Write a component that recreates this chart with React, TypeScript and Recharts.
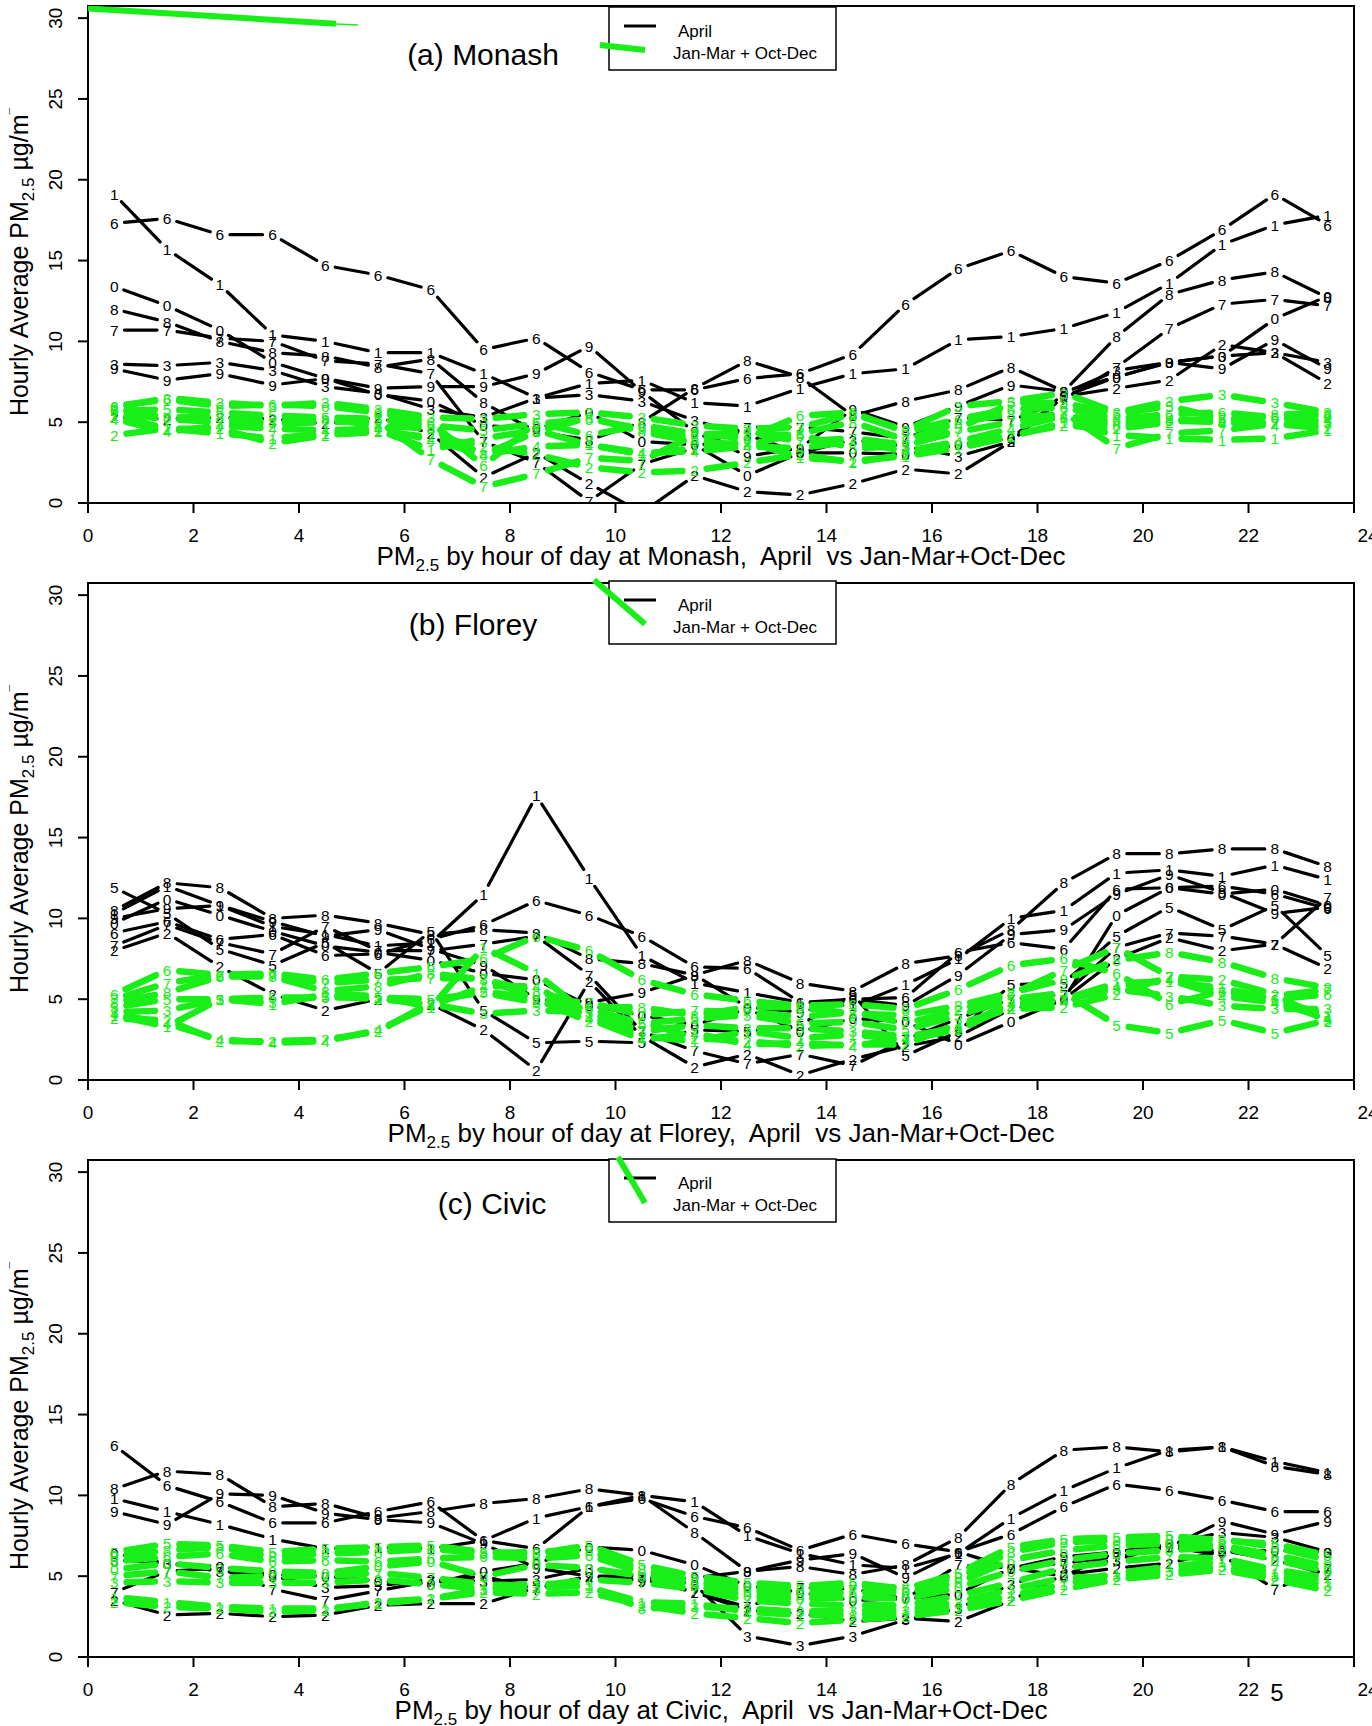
import { ComposedChart, Line, Scatter, XAxis, YAxis, ReferenceArea } from 'recharts'

const HOURS = [0.5, 1.5, 2.5, 3.5, 4.5, 5.5, 6.5, 7.5, 8.5, 9.5, 10.5, 11.5, 12.5, 13.5, 14.5, 15.5, 16.5, 17.5, 18.5, 19.5, 20.5, 21.5, 22.5, 23.5]
const X_TICKS = [0, 2, 4, 6, 8, 10, 12, 14, 16, 18, 20, 22, 24]
const Y_TICKS = [0, 5, 10, 15, 20, 25, 30]
const Y_TOP = 30.75

// (a) Monash, April (black), labelled by year digit
const MONASH_APRIL_KEYS = ['1', '6', '0', '8', '7', '3', '9', '2']
const MONASH_APRIL = [
  [19.1, 15.7, 13.5, 10.4, 10.0, 9.3, 9.3, 8.0, 6.5, 7.4, 7.6, 6.2, 6.0, 7.1, 8.0, 8.3, 10.1, 10.3, 10.8, 11.8, 13.6, 16.0, 17.2, 17.8],
  [17.3, 17.6, 16.6, 16.6, 14.7, 14.1, 13.2, 9.5, 10.2, 8.1, 7.0, 7.0, 7.7, 8.0, 9.2, 12.3, 14.5, 15.6, 14.0, 13.6, 15.0, 16.9, 19.1, 17.2],
  [13.4, 12.2, 10.7, 8.7, 7.7, 6.7, 6.3, 4.8, 4.6, 5.6, 3.8, 3.6, 1.7, 3.1, 3.1, 3.0, 3.6, 4.0, 6.6, 7.8, 8.7, 9.1, 11.4, 12.8],
  [12.0, 11.2, 10.0, 9.3, 9.1, 8.4, 8.9, 6.2, 4.4, 3.9, 5.0, 7.1, 8.8, 7.8, 5.4, 6.3, 7.0, 8.4, 6.9, 10.3, 12.9, 13.8, 14.3, 12.7],
  [10.7, 10.7, 10.2, 10.0, 8.8, 8.6, 8.0, 3.8, 2.5, 0.1, 2.4, 3.4, 4.7, 4.7, 4.4, 4.0, 5.3, 5.1, 6.4, 8.4, 10.8, 12.3, 12.6, 12.2],
  [8.6, 8.5, 8.7, 8.2, 7.2, 6.8, 5.8, 5.3, 6.5, 6.7, 6.3, 5.1, 4.2, 3.1, 3.9, 3.5, 2.9, 3.8, 6.8, 8.2, 8.7, 9.1, 9.3, 8.7],
  [8.3, 7.6, 8.0, 7.3, 7.7, 7.1, 7.2, 7.2, 8.0, 9.7, 6.9, 4.4, 2.9, 3.4, 5.8, 4.7, 6.0, 7.3, 6.9, 7.8, 8.7, 8.3, 10.1, 8.3],
  [5.3, 5.2, 5.3, 5.2, 4.9, 5.3, 4.3, 1.6, 3.1, 1.2, -0.6, 1.7, 0.7, 0.5, 1.2, 2.1, 1.8, 3.8, 6.6, 7.1, 7.6, 9.8, 9.3, 7.4],
]
// (a) Monash, Jan-Mar + Oct-Dec (green)
const MONASH_OTHER_KEYS = ['3', '6', '5', '2', '4', '1', '7', '8']
const MONASH_OTHER = [
  [5.9, 6.5, 6.2, 6.0, 6.2, 5.8, 5.3, 5.2, 5.5, 5.6, 5.3, 4.8, 4.6, 4.7, 5.5, 4.5, 6.0, 6.3, 6.8, 5.6, 6.3, 6.7, 6.2, 5.6],
  [6.0, 6.4, 6.0, 6.1, 6.0, 5.6, 5.0, 2.3, 5.0, 4.2, 4.8, 4.3, 4.0, 5.4, 5.6, 4.4, 5.2, 5.8, 5.9, 5.2, 5.5, 5.6, 5.3, 5.4],
  [5.7, 5.8, 5.6, 5.4, 5.3, 5.2, 4.8, 4.5, 4.9, 5.2, 4.6, 4.0, 4.3, 4.2, 3.4, 3.5, 4.6, 6.2, 6.2, 5.5, 6.0, 5.2, 5.3, 5.0],
  [4.2, 4.6, 4.6, 3.7, 4.2, 4.4, 4.1, 3.5, 3.0, 2.2, 1.9, 2.0, 2.5, 3.0, 2.5, 3.0, 3.6, 4.2, 4.8, 4.6, 5.0, 5.3, 4.9, 4.6],
  [5.2, 4.4, 4.8, 4.6, 4.5, 4.6, 3.9, 3.0, 3.5, 3.6, 3.1, 3.2, 3.5, 3.4, 3.8, 3.2, 3.8, 4.6, 5.4, 5.0, 5.2, 5.0, 4.8, 5.2],
  [5.4, 4.6, 4.3, 4.0, 4.3, 4.5, 3.3, 4.0, 4.5, 3.6, 3.0, 3.4, 3.8, 2.8, 2.6, 2.9, 3.4, 4.1, 5.0, 4.2, 4.0, 3.9, 4.0, 4.5],
  [5.5, 5.2, 5.0, 4.9, 5.0, 5.1, 2.7, 1.0, 1.8, 2.8, 2.6, 4.2, 4.4, 3.8, 4.0, 3.6, 4.4, 5.0, 5.6, 3.4, 4.3, 4.5, 4.9, 4.8],
  [5.8, 5.3, 5.3, 5.0, 5.2, 4.8, 4.6, 3.0, 4.4, 5.3, 4.4, 3.8, 3.6, 4.3, 5.0, 3.9, 5.0, 5.5, 5.3, 4.8, 5.1, 5.0, 5.5, 5.5],
]
// stray green stroke at the top left of panel (a)
const MONASH_STRAY_HOURS = [0, 4.7]
const MONASH_STRAY_VALUES = [30.6, 29.65]

// (b) Florey
const FLOREY_APRIL_KEYS = ['1', '8', '6', '9', '0', '5', '2', '7']
const FLOREY_APRIL = [
  [10.3, 12.0, 10.8, 9.5, 9.0, 8.3, 8.5, 11.5, 17.6, 12.5, 7.7, 6.0, 5.4, 4.8, 4.6, 5.9, 7.5, 10.0, 10.5, 12.8, 13.0, 12.6, 13.3, 12.4],
  [10.5, 12.2, 11.9, 10.0, 10.2, 9.7, 9.0, 9.3, 9.1, 7.5, 7.2, 6.5, 7.4, 6.0, 5.5, 7.2, 7.7, 9.3, 12.2, 14.0, 14.0, 14.3, 14.3, 13.2],
  [9.1, 9.8, 8.7, 9.0, 7.7, 7.8, 8.7, 9.6, 11.1, 10.2, 8.9, 7.0, 6.9, 4.8, 5.0, 5.1, 7.9, 8.5, 8.1, 11.8, 11.9, 12.0, 11.5, 10.6],
  [10.0, 10.6, 10.8, 9.8, 8.9, 9.3, 8.1, 7.1, 5.0, 4.8, 5.4, 6.5, 4.5, 4.2, 5.0, 4.6, 6.5, 9.0, 9.3, 11.5, 12.7, 11.6, 10.3, 10.7],
  [9.7, 11.2, 10.2, 9.2, 8.3, 7.9, 7.4, 6.6, 6.2, 4.6, 4.0, 3.4, 4.4, 3.0, 3.8, 3.6, 2.2, 3.6, 5.0, 10.2, 11.9, 11.5, 11.8, 10.8],
  [11.9, 10.3, 8.1, 7.1, 8.5, 6.6, 9.2, 4.3, 2.3, 2.4, 2.3, 3.1, 3.0, 3.4, 5.3, 1.5, 3.0, 5.9, 6.0, 8.9, 10.7, 9.3, 10.8, 7.7],
  [8.0, 9.1, 7.0, 5.3, 4.3, 5.0, 4.7, 3.1, 0.6, 6.1, 2.7, 0.8, 1.6, 0.3, 1.3, 2.1, 2.7, 4.4, 5.0, 7.5, 8.8, 8.0, 8.4, 6.9],
  [8.3, 9.6, 8.5, 7.8, 9.5, 8.0, 8.0, 8.4, 8.9, 6.5, 3.0, 1.8, 1.0, 1.6, 0.9, 2.5, 3.8, 5.0, 5.3, 8.2, 9.1, 8.9, 8.4, 11.3],
]
const FLOREY_OTHER_KEYS = ['6', '7', '8', '5', '3', '2', '1', '4']
const FLOREY_OTHER = [
  [5.3, 6.8, 6.5, 6.6, 6.2, 6.6, 7.0, 7.5, 8.9, 8.0, 6.2, 5.3, 4.9, 4.6, 4.7, 4.4, 5.6, 7.1, 7.5, 6.6, 4.7, 5.5, 5.0, 5.3],
  [5.0, 6.0, 6.5, 6.5, 6.0, 6.2, 6.3, 6.3, 5.0, 4.8, 4.0, 4.3, 4.2, 3.9, 4.2, 3.5, 4.3, 5.3, 6.8, 8.2, 6.4, 5.4, 5.2, 5.6],
  [4.8, 5.4, 6.4, 6.4, 5.5, 5.8, 6.6, 6.2, 5.5, 4.5, 4.5, 4.0, 4.5, 4.5, 4.1, 4.0, 4.6, 5.4, 6.2, 7.4, 7.9, 7.3, 6.3, 5.7],
  [4.5, 5.0, 5.0, 5.1, 5.1, 5.1, 5.0, 5.4, 4.8, 4.4, 3.5, 3.8, 4.0, 3.5, 3.6, 3.1, 4.0, 5.0, 5.4, 3.4, 2.9, 3.7, 2.9, 3.7],
  [4.2, 4.3, 5.0, 4.8, 5.2, 5.0, 4.7, 4.1, 4.3, 4.2, 3.0, 3.4, 3.2, 3.2, 3.0, 2.7, 3.2, 4.8, 5.0, 5.6, 5.2, 4.6, 4.4, 4.4],
  [3.8, 3.7, 2.4, 2.4, 2.5, 3.0, 4.8, 5.5, 5.0, 3.6, 3.6, 2.6, 2.4, 2.1, 2.2, 2.2, 3.5, 4.4, 4.5, 5.3, 6.4, 6.2, 5.3, 3.6],
  [4.0, 3.3, 5.0, 4.7, 5.3, 5.2, 4.5, 8.2, 6.6, 4.0, 2.7, 2.4, 3.0, 2.6, 2.8, 2.5, 3.1, 4.6, 5.0, 6.0, 6.1, 5.7, 5.0, 4.0],
  [4.1, 3.5, 2.5, 2.3, 2.4, 3.1, 4.6, 5.8, 5.8, 3.8, 2.5, 2.9, 2.2, 2.3, 2.1, 2.6, 3.3, 4.5, 4.9, 5.8, 6.2, 5.2, 4.8, 3.8],
]

// (c) Civic
const CIVIC_APRIL_KEYS = ['8', '6', '1', '9', '0', '2', '3', '7']
const CIVIC_APRIL = [
  [10.4, 11.5, 11.3, 9.3, 9.5, 8.6, 9.0, 9.5, 9.8, 10.4, 10.0, 7.7, 5.3, 5.6, 5.1, 5.7, 7.4, 10.7, 12.8, 13.0, 12.7, 13.0, 11.8, 11.3],
  [13.1, 10.6, 9.6, 8.3, 8.3, 9.0, 9.6, 7.2, 6.7, 9.3, 9.8, 8.7, 8.0, 6.6, 7.6, 7.0, 6.5, 7.6, 9.3, 10.7, 10.3, 9.7, 9.0, 9.0],
  [9.8, 9.0, 8.2, 7.3, 6.7, 6.8, 6.7, 7.2, 8.6, 9.3, 10.0, 9.6, 7.5, 6.4, 5.7, 5.5, 6.4, 8.6, 10.3, 11.7, 12.8, 13.0, 12.1, 11.4],
  [9.0, 8.2, 10.1, 10.0, 8.9, 8.5, 8.3, 7.0, 5.5, 5.0, 4.7, 4.9, 5.3, 6.0, 6.4, 4.9, 6.5, 5.5, 6.2, 6.5, 6.8, 8.4, 7.6, 8.4],
  [6.4, 5.8, 5.6, 5.1, 5.0, 4.7, 4.5, 5.3, 5.8, 6.8, 6.6, 5.7, 4.4, 4.0, 3.5, 3.6, 3.9, 5.5, 5.0, 6.5, 7.0, 6.5, 6.6, 6.5],
  [3.5, 2.6, 2.7, 2.5, 2.6, 3.2, 3.3, 3.3, 4.3, 5.0, 5.0, 4.0, 2.9, 2.7, 2.2, 2.4, 2.2, 3.5, 5.1, 5.5, 5.8, 6.6, 6.0, 5.1],
  [6.0, 5.8, 5.3, 5.0, 4.3, 4.4, 4.8, 4.7, 4.8, 5.5, 5.0, 4.5, 1.3, 0.7, 1.3, 2.3, 3.0, 4.5, 5.5, 6.0, 7.0, 7.7, 7.4, 6.5],
  [4.0, 5.3, 5.5, 4.2, 3.5, 4.1, 4.7, 5.0, 4.2, 5.0, 4.8, 4.0, 3.1, 4.3, 4.2, 3.6, 5.7, 5.5, 5.8, 6.2, 6.8, 6.3, 4.2, 5.5],
]
const CIVIC_OTHER_KEYS = ['5', '8', '6', '0', '7', '3', '1', '2']
const CIVIC_OTHER = [
  [6.5, 7.0, 6.9, 6.5, 6.7, 6.8, 6.9, 6.5, 6.4, 6.9, 5.7, 5.0, 4.6, 4.4, 4.6, 4.2, 5.2, 6.8, 7.3, 7.4, 7.5, 7.2, 7.0, 6.3],
  [6.2, 6.6, 6.8, 6.2, 6.4, 6.5, 6.7, 6.4, 6.5, 6.6, 5.4, 4.7, 4.3, 4.2, 4.4, 4.3, 4.9, 6.5, 7.1, 7.2, 7.3, 7.3, 6.8, 6.0],
  [5.9, 6.2, 6.4, 5.9, 6.0, 5.9, 6.1, 6.2, 6.1, 6.3, 5.2, 4.6, 4.1, 3.9, 4.0, 4.0, 4.6, 6.0, 6.6, 6.9, 7.0, 6.9, 6.3, 5.6],
  [5.4, 5.8, 5.5, 5.3, 5.2, 5.6, 5.9, 5.0, 5.7, 5.5, 5.0, 4.4, 3.8, 3.6, 3.7, 3.6, 4.3, 5.3, 6.0, 6.4, 6.6, 6.8, 6.0, 5.3],
  [5.0, 5.3, 4.9, 5.0, 5.0, 5.2, 4.9, 4.5, 4.4, 4.8, 4.6, 4.2, 3.5, 3.3, 3.2, 3.2, 3.8, 4.6, 5.5, 5.9, 6.2, 6.1, 5.4, 4.9],
  [4.6, 4.7, 4.6, 4.6, 4.6, 4.8, 4.5, 4.2, 4.3, 4.4, 3.0, 3.1, 3.0, 2.8, 2.9, 2.9, 3.4, 4.2, 4.9, 5.0, 5.3, 5.6, 5.0, 4.4],
  [3.7, 3.4, 3.1, 3.0, 3.0, 3.3, 3.6, 4.2, 4.6, 4.3, 3.4, 3.3, 2.8, 2.6, 2.6, 2.7, 3.1, 3.8, 4.5, 5.2, 5.6, 5.9, 5.2, 4.7],
  [3.4, 3.1, 3.0, 2.8, 2.9, 3.4, 3.6, 4.0, 3.9, 4.0, 3.2, 2.7, 2.4, 2.1, 2.3, 2.5, 2.9, 3.5, 4.2, 4.8, 5.1, 5.4, 4.8, 4.1],
]

const FONT = '"Liberation Sans", Arial, Helvetica, sans-serif'
const GREEN = '#19ee19'
const PANEL_H = 577
const CHART_W = 1372
const MARGIN = { top: 6, right: 18, bottom: 0, left: 0 }
const Y_AXIS_W = 88
const X_AXIS_H = 74
const PLOT_W = CHART_W - Y_AXIS_W - MARGIN.right
const PLOT_H = PANEL_H - MARGIN.top - X_AXIS_H
const BLACK_W = 3.2
const GREEN_W = 6.5

const buildRows = (april: number[][], other: number[][]) =>
  HOURS.map((h, i) => {
    const row: Record<string, number> = { hour: h }
    april.forEach((s, j) => (row['a' + j] = s[i]))
    other.forEach((s, j) => (row['g' + j] = s[i]))
    return row
  })

// type="b" look: each segment stops short of its points, leaving a gap round the digit
const gapDash = (vals: number[], gap: number, width: number) => {
  const e = gap + width / 2
  const parts: number[] = []
  for (let i = 0; i < vals.length - 1; i++) {
    const dx = ((HOURS[i + 1] - HOURS[i]) * PLOT_W) / 24
    const dy = ((vals[i + 1] - vals[i]) * PLOT_H) / Y_TOP
    const len = Math.hypot(dx, dy)
    parts.push(Math.max(len - 2 * e, 0.5), 2 * e)
  }
  parts[parts.length - 1] = 5000
  return { strokeDasharray: parts.map((p) => p.toFixed(2)).join(' '), strokeDashoffset: -e }
}

const digitShape = (label: string, color: string) => (p: any) => {
  const { cx, cy } = p
  if (cx == null || cy == null || Number.isNaN(cy)) return <g />
  return (
    <text x={cx} y={cy} dy="0.36em" textAnchor="middle" fontSize={15.5} fill={color} fontFamily={FONT}>
      {label}
    </text>
  )
}

const XTick = (p: any) => {
  const { x, y, payload } = p
  const tx = payload.value === 24 ? x + 14 : x
  return (
    <text x={tx} y={y} dy="0.71em" textAnchor="middle" fontSize={19} fill="#000" fontFamily={FONT}>
      {payload.value}
    </text>
  )
}

const YTick = (p: any) => {
  const { x, y, payload } = p
  const tx = x - 21
  return (
    <text x={tx} y={y} transform={`rotate(-90, ${tx}, ${y})`} textAnchor="middle" dy="0.36em" fontSize={19} fill="#000" fontFamily={FONT}>
      {payload.value}
    </text>
  )
}

interface PanelProps {
  top: number
  title: string
  titleX: number
  titleY: number
  site: string
  aprilKeys: string[]
  april: number[][]
  otherKeys: string[]
  other: number[][]
  legendTop: number
  greenStroke: [number, number, number, number]
  stray?: boolean
  pageMark?: boolean
}

function Panel(props: PanelProps) {
  const { top, title, titleX, titleY, site, aprilKeys, april, otherKeys, other, legendTop, greenStroke } = props
  const rows = buildRows(april, other)
  const strayRows = MONASH_STRAY_HOURS.map((h, i) => ({ hour: h, v: MONASH_STRAY_VALUES[i] }))
  return (
    <div style={{ position: 'absolute', left: 0, top, width: CHART_W, height: PANEL_H }}>
      <ComposedChart width={CHART_W} height={PANEL_H} data={rows} margin={MARGIN}>
        <XAxis
          dataKey="hour"
          type="number"
          domain={[0, 24]}
          ticks={X_TICKS}
          allowDataOverflow
          height={X_AXIS_H}
          axisLine={false}
          tickSize={10}
          tickMargin={16}
          tickLine={{ stroke: '#000', strokeWidth: 2 }}
          tick={<XTick />}
          interval={0}
        />
        <YAxis
          type="number"
          domain={[0, Y_TOP]}
          ticks={Y_TICKS}
          allowDataOverflow
          width={Y_AXIS_W}
          axisLine={false}
          tickSize={10}
          tickLine={{ stroke: '#000', strokeWidth: 2 }}
          tick={<YTick />}
          interval={0}
        />
        {april.map((s, j) => (
          <Line
            key={'la' + j}
            dataKey={'a' + j}
            stroke="#000"
            strokeWidth={BLACK_W}
            strokeLinecap="round"
            {...gapDash(s, 8.5, BLACK_W)}
            dot={false}
            activeDot={false}
            isAnimationActive={false}
          />
        ))}
        {other.map((s, j) => (
          <Line
            key={'lg' + j}
            dataKey={'g' + j}
            stroke={GREEN}
            strokeWidth={GREEN_W}
            strokeLinecap="round"
            {...gapDash(s, 9, GREEN_W)}
            dot={false}
            activeDot={false}
            isAnimationActive={false}
          />
        ))}
        {props.stray && (
          <Line data={strayRows} dataKey="v" stroke={GREEN} strokeWidth={6} dot={false} activeDot={false} isAnimationActive={false} />
        )}
        {april.map((_, j) => (
          <Scatter key={'da' + j} data={rows} dataKey={'a' + j} shape={digitShape(aprilKeys[j], '#000')} isAnimationActive={false} />
        ))}
        {other.map((_, j) => (
          <Scatter key={'dg' + j} data={rows} dataKey={'g' + j} shape={digitShape(otherKeys[j], GREEN)} isAnimationActive={false} />
        ))}
        <ReferenceArea x1={0} x2={24} y1={0} y2={Y_TOP} fill="none" stroke="#000" strokeWidth={2} ifOverflow="visible" />
      </ComposedChart>

      <svg width={CHART_W} height={PANEL_H} style={{ position: 'absolute', left: 0, top: 0, pointerEvents: 'none' }}>
        <rect x={609} y={legendTop} width={227} height={63} fill="#fff" stroke="#000" strokeWidth={1.5} />
        <line x1={624} y1={legendTop + 19} x2={656} y2={legendTop + 19} stroke="#000" strokeWidth={3} />
        <line x1={greenStroke[0]} y1={greenStroke[1]} x2={greenStroke[2]} y2={greenStroke[3]} stroke={GREEN} strokeWidth={6} />
        {props.stray && (
          <line x1={336} y1={24} x2={358} y2={25} stroke={GREEN} strokeWidth={1.5} />
        )}
        <text x={678} y={legendTop + 24} fontSize={17} fontFamily={FONT} fill="#000" dy="0.36em">April</text>
        <text x={673} y={legendTop + 46} fontSize={17} fontFamily={FONT} fill="#000" dy="0.36em">Jan-Mar + Oct-Dec</text>
        {props.pageMark && (
          <text x={1277} y={538} fontSize={24} fontFamily={FONT} fill="#000" textAnchor="middle" dy="0.36em">5</text>
        )}
      </svg>

      <div
        style={{
          position: 'absolute', left: titleX, top: titleY, transform: 'translate(-50%, -50%)',
          fontFamily: FONT, fontSize: 30, whiteSpace: 'nowrap', color: '#000',
        }}
      >
        {title}
      </div>
      <div
        style={{
          position: 'absolute', left: 22, top: 262, transform: 'translate(-50%, -50%) rotate(-90deg)',
          fontFamily: FONT, fontSize: 25, whiteSpace: 'nowrap', color: '#000',
        }}
      >
        Hourly Average PM<sub style={{ fontSize: 17 }}>2.5</sub> µg/m<sup style={{ fontSize: 12 }}>¯</sup>
      </div>
      <div
        style={{
          position: 'absolute', left: 88, width: 1266, top: 541, textAlign: 'center',
          fontFamily: FONT, fontSize: 26, whiteSpace: 'pre', color: '#000', lineHeight: '30px',
        }}
      >
        PM<sub style={{ fontSize: 17 }}>2.5</sub>{` by hour of day at ${site},  April  vs Jan-Mar+Oct-Dec`}
      </div>
    </div>
  )
}

export default function App() {
  return (
    <div style={{ position: 'absolute', left: 0, top: 0, width: 1372, height: 1726, background: '#fff', overflow: 'hidden' }}>
      <Panel
        top={0}
        title="(a) Monash"
        titleX={483}
        titleY={55}
        site="Monash"
        aprilKeys={MONASH_APRIL_KEYS}
        april={MONASH_APRIL}
        otherKeys={MONASH_OTHER_KEYS}
        other={MONASH_OTHER}
        legendTop={7}
        greenStroke={[600, 45, 645, 50]}
        stray
      />
      <Panel
        top={PANEL_H}
        title="(b) Florey"
        titleX={473}
        titleY={48}
        site="Florey"
        aprilKeys={FLOREY_APRIL_KEYS}
        april={FLOREY_APRIL}
        otherKeys={FLOREY_OTHER_KEYS}
        other={FLOREY_OTHER}
        legendTop={4}
        greenStroke={[594, 3, 645, 47]}
      />
      <Panel
        top={PANEL_H * 2}
        title="(c) Civic"
        titleX={492}
        titleY={50}
        site="Civic"
        aprilKeys={CIVIC_APRIL_KEYS}
        april={CIVIC_APRIL}
        otherKeys={CIVIC_OTHER_KEYS}
        other={CIVIC_OTHER}
        legendTop={5}
        greenStroke={[618, 3, 645, 49]}
        pageMark
      />
    </div>
  )
}
